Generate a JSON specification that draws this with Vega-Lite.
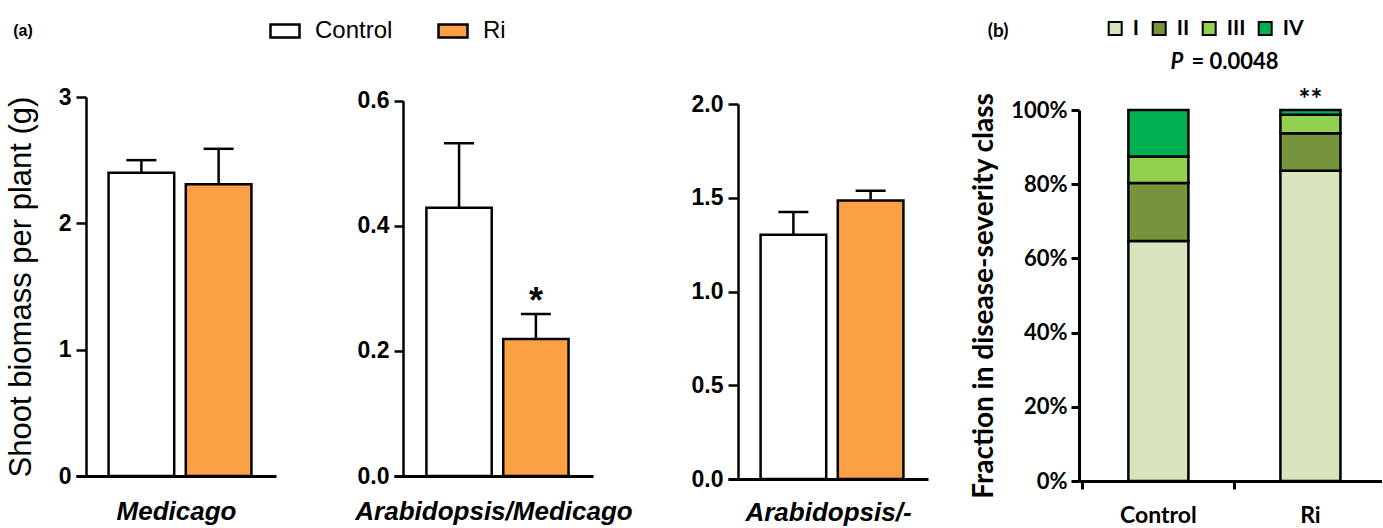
{
  "$schema": "https://vega.github.io/schema/vega-lite/v6.json",
  "autosize": {"type": "pad"},
  "padding": {"left": 5, "top": 15, "right": 0, "bottom": 0},
  "background": "white",
  "spacing": 0,
  "bounds": "flush",
  "resolve": {"scale": {"x": "independent", "y": "independent", "fill": "independent"}, "legend": {"fill": "independent"}},
  "config": {
    "view": {"stroke": null},
    "axis": {"domainColor": "black", "tickColor": "black", "labelColor": "black", "titleColor": "black", "grid": false, "labelBound": false},
    "legend": {"labelColor": "black"}
  },
  "hconcat": [
    {
      "width": 318, "height": 379,
      "title": {"text": "(a)", "anchor": "start", "frame": "bounds", "offset": -37, "dx": 8, "font": "Liberation Sans", "fontSize": 16, "fontWeight": "bold", "baseline": "alphabetic", "color": "black"},
      "data": {"values": [
        {"treatment": "Control", "mean": 2.40, "upper": 2.50},
        {"treatment": "Ri", "mean": 2.31, "upper": 2.59}
      ]},
      "encoding": {
        "x": {"field": "treatment", "type": "nominal",
          "scale": {"domain": ["Control", "Ri"], "range": [0, 200], "paddingInner": 0.15, "paddingOuter": 0.37, "align": 0.57},
          "axis": {"title": "Medicago", "labels": false, "ticks": false, "domainWidth": 3, "titleFont": "Liberation Sans", "titleFontSize": 26, "titleFontStyle": "italic", "titleFontWeight": "bold", "titlePadding": 22}}
      },
      "layer": [
        {"mark": {"type": "bar", "stroke": "black", "strokeWidth": 2.5},
         "encoding": {
           "y": {"field": "mean", "type": "quantitative", "title": "Shoot biomass per plant (g)",
             "scale": {"domain": [0, 3], "range": [379, 0], "nice": false},
             "axis": {"values": [0, 1, 2, 3], "format": "d", "offset": -10, "tickSize": 10, "tickWidth": 2.5, "domainWidth": 2.5,
               "labelFont": "Liberation Sans", "labelFontSize": 23, "labelFontWeight": "bold", "labelPadding": 5,
               "titleFont": "Liberation Sans", "titleFontSize": 31, "titleFontWeight": "normal", "titlePadding": 21}},
           "fill": {"field": "treatment", "type": "nominal",
             "scale": {"domain": ["Control", "Ri"], "range": ["#ffffff", "#fba044"]},
             "legend": {"orient": "none", "legendX": 193, "legendY": -82, "direction": "horizontal", "title": null, "padding": 0,
               "symbolType": "M-1,-0.45H1V0.45H-1Z", "symbolSize": 841, "symbolStrokeColor": "black", "symbolStrokeWidth": 2.5, "symbolOpacity": 1,
               "labelFont": "Liberation Sans", "labelFontSize": 24, "labelOffset": 14, "columnPadding": 40}}
         }},
        {"mark": {"type": "rule", "strokeWidth": 2.5, "color": "black"},
         "encoding": {"y": {"field": "mean", "type": "quantitative", "title": "Shoot biomass per plant (g)"}, "y2": {"field": "upper"}}},
        {"mark": {"type": "tick", "thickness": 2.5, "size": 30, "color": "black", "opacity": 1},
         "encoding": {"y": {"field": "upper", "type": "quantitative", "title": "Shoot biomass per plant (g)"}}}
      ]
    },
    {
      "width": 334, "height": 379,
      "data": {"values": [
        {"treatment": "Control", "mean": 0.429, "upper": 0.532, "sig": ""},
        {"treatment": "Ri", "mean": 0.219, "upper": 0.259, "sig": "*"}
      ]},
      "encoding": {
        "x": {"field": "treatment", "type": "nominal",
          "scale": {"domain": ["Control", "Ri"], "range": [0, 199], "paddingInner": 0.15, "paddingOuter": 0.37, "align": 0.57},
          "axis": {"title": "Arabidopsis/Medicago", "labels": false, "ticks": false, "domainWidth": 3, "titleFont": "Liberation Sans", "titleFontSize": 26, "titleFontStyle": "italic", "titleFontWeight": "bold", "titlePadding": 22}}
      },
      "layer": [
        {"mark": {"type": "bar", "stroke": "black", "strokeWidth": 2.5},
         "encoding": {
           "y": {"field": "mean", "type": "quantitative", "title": null,
             "scale": {"domain": [0, 0.6], "range": [379, 3.7], "nice": false},
             "axis": {"values": [0, 0.2, 0.4, 0.6], "format": ".1f", "offset": -9, "tickSize": 9, "tickWidth": 2.5, "domainWidth": 2.5,
               "labelFont": "Liberation Sans", "labelFontSize": 23, "labelFontWeight": "bold", "labelPadding": 5}},
           "fill": {"field": "treatment", "type": "nominal",
             "scale": {"domain": ["Control", "Ri"], "range": ["#ffffff", "#fba044"]}, "legend": null}
         }},
        {"mark": {"type": "rule", "strokeWidth": 2.5, "color": "black"},
         "encoding": {"y": {"field": "mean", "type": "quantitative", "title": null}, "y2": {"field": "upper"}}},
        {"mark": {"type": "tick", "thickness": 2.5, "size": 30, "color": "black", "opacity": 1},
         "encoding": {"y": {"field": "upper", "type": "quantitative", "title": null}}},
        {"mark": {"type": "text", "font": "Liberation Sans", "fontSize": 36, "fontWeight": "bold", "baseline": "alphabetic", "dy": -1, "color": "black"},
         "encoding": {"y": {"field": "upper", "type": "quantitative", "title": null}, "text": {"field": "sig"}}}
      ]
    },
    {
      "width": 351, "height": 382,
      "data": {"values": [
        {"treatment": "Control", "mean": 1.303, "upper": 1.424},
        {"treatment": "Ri", "mean": 1.486, "upper": 1.538}
      ]},
      "encoding": {
        "x": {"field": "treatment", "type": "nominal",
          "scale": {"domain": ["Control", "Ri"], "range": [0, 200], "paddingInner": 0.15, "paddingOuter": 0.37, "align": 0.57},
          "axis": {"title": "Arabidopsis/-", "labels": false, "ticks": false, "domainWidth": 3, "titleFont": "Liberation Sans", "titleFontSize": 26, "titleFontStyle": "italic", "titleFontWeight": "bold", "titlePadding": 20}}
      },
      "layer": [
        {"mark": {"type": "bar", "stroke": "black", "strokeWidth": 2.5},
         "encoding": {
           "y": {"field": "mean", "type": "quantitative", "title": null,
             "scale": {"domain": [0, 2], "range": [382, 7], "nice": false},
             "axis": {"values": [0, 0.5, 1, 1.5, 2], "format": ".1f", "offset": -10, "tickSize": 10, "tickWidth": 2.5, "domainWidth": 2.5,
               "labelFont": "Liberation Sans", "labelFontSize": 23, "labelFontWeight": "bold", "labelPadding": 5}},
           "fill": {"field": "treatment", "type": "nominal",
             "scale": {"domain": ["Control", "Ri"], "range": ["#ffffff", "#fba044"]}, "legend": null}
         }},
        {"mark": {"type": "rule", "strokeWidth": 2.5, "color": "black"},
         "encoding": {"y": {"field": "mean", "type": "quantitative", "title": null}, "y2": {"field": "upper"}}},
        {"mark": {"type": "tick", "thickness": 2.5, "size": 30, "color": "black", "opacity": 1},
         "encoding": {"y": {"field": "upper", "type": "quantitative", "title": null}}}
      ]
    },
    {
      "width": 303, "height": 384,
      "title": {"text": "(b)", "anchor": "start", "frame": "bounds", "offset": -38, "dx": 17, "font": "Lato", "fontSize": 19, "fontWeight": "bold", "baseline": "alphabetic", "color": "black"},
      "data": {"values": [
        {"treatment": "Control", "cls": "I", "frac": 0.647},
        {"treatment": "Control", "cls": "II", "frac": 0.156},
        {"treatment": "Control", "cls": "III", "frac": 0.072},
        {"treatment": "Control", "cls": "IV", "frac": 0.125},
        {"treatment": "Ri", "cls": "I", "frac": 0.836},
        {"treatment": "Ri", "cls": "II", "frac": 0.101},
        {"treatment": "Ri", "cls": "III", "frac": 0.050},
        {"treatment": "Ri", "cls": "IV", "frac": 0.013}
      ]},
      "encoding": {
        "x": {"field": "treatment", "type": "nominal",
          "scale": {"domain": ["Control", "Ri"], "range": [0, 303], "paddingInner": 0.605, "paddingOuter": 0.299, "align": 0.543},
          "axis": {"title": null, "labelAngle": 0, "labelFont": "Lato", "labelFontSize": 23, "labelFontWeight": "bold", "labelPadding": 15,
            "tickSize": 8, "tickWidth": 3, "domainWidth": 3, "bandPosition": -0.76}}
      },
      "layer": [
        {"mark": {"type": "bar", "stroke": "black", "strokeWidth": 2.5},
         "encoding": {
           "y": {"field": "frac", "type": "quantitative", "stack": "zero", "title": "Fraction in disease-severity class",
             "scale": {"domain": [0, 1], "range": [384, 13], "nice": false},
             "axis": {"values": [0, 0.2, 0.4, 0.6, 0.8, 1], "format": ".0%", "tickSize": 8, "tickWidth": 3, "domainWidth": 3,
               "labelFont": "Lato", "labelFontSize": 22, "labelFontWeight": "bold", "labelPadding": 4,
               "titleFont": "Lato", "titleFontSize": 28, "titleFontWeight": "bold", "titlePadding": 12}},
           "fill": {"field": "cls", "type": "nominal",
             "scale": {"domain": ["I", "II", "III", "IV"], "range": ["#d7e4bd", "#77933c", "#92d050", "#00b050"]},
             "legend": {"orient": "none", "legendX": 25.7, "legendY": -79, "direction": "horizontal", "title": null, "padding": 0,
               "symbolType": "square", "symbolSize": 169, "symbolStrokeColor": "black", "symbolStrokeWidth": 2, "symbolOpacity": 1,
               "labelFont": "Lato", "labelFontSize": 21, "labelFontWeight": "bold", "labelOffset": 7, "columnPadding": 9}},
           "order": {"field": "cls", "sort": "ascending"}
         }},
        {"data": {"values": [{"treatment": "Ri", "sig": "**"}]},
         "mark": {"type": "text", "font": "Lato", "fontSize": 28, "fontWeight": "bold", "baseline": "alphabetic", "dy": -1, "color": "black"},
         "encoding": {"y": {"datum": 1}, "text": {"field": "sig"}}},
        {"data": {"values": [{"treatment": "Control", "p": "P", "rest": "= 0.0048"}]},
         "mark": {"type": "text", "font": "Lato", "fontSize": 22, "fontWeight": "bold", "fontStyle": "italic", "baseline": "alphabetic", "align": "right", "dx": 25, "dy": -41, "color": "black"},
         "encoding": {"y": {"datum": 1}, "text": {"field": "p"}}},
        {"data": {"values": [{"treatment": "Control", "p": "P", "rest": "= 0.0048"}]},
         "mark": {"type": "text", "font": "Lato", "fontSize": 22, "fontWeight": "bold", "baseline": "alphabetic", "align": "left", "dx": 33, "dy": -41, "color": "black"},
         "encoding": {"y": {"datum": 1}, "text": {"field": "rest"}}}
      ]
    }
  ]
}
